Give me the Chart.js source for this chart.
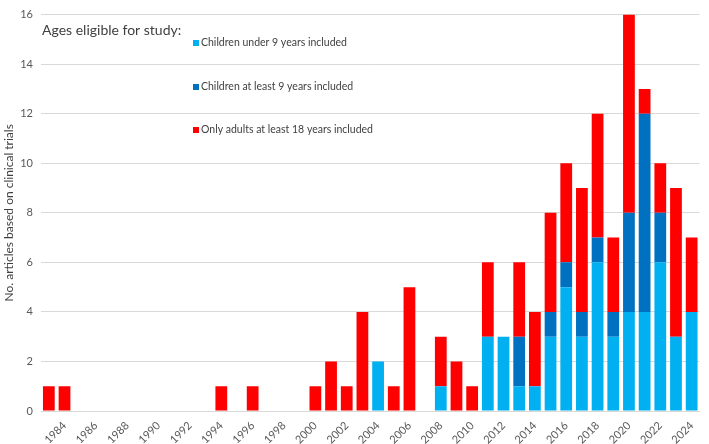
<!DOCTYPE html>
<html>
<head>
<meta charset="utf-8">
<style>
  html, body { margin: 0; padding: 0; background: #fff; }
  #wrap { width: 709px; height: 444px; position: relative; }
</style>
<script src="https://cdn.jsdelivr.net/npm/chart.js@4"></script>
</head>
<body>
<div id="wrap"><canvas id="myChart" width="709" height="444"></canvas></div>
<script>
// Años (categorías del eje x)
var years = [
  "1983", "1984", "1985", "1986", "1987", "1988", "1989", "1990", "1991", "1992",
  "1993", "1994", "1995", "1996", "1997", "1998", "1999", "2000", "2001", "2002",
  "2003", "2004", "2005", "2006", "2007", "2008", "2009", "2010", "2011", "2012",
  "2013", "2014", "2015", "2016", "2017", "2018", "2019", "2020", "2021", "2022",
  "2023", "2024"
];

// Series
var under9 = [
  0, 0, 0, 0, 0, 0, 0, 0, 0, 0,
  0, 0, 0, 0, 0, 0, 0, 0, 0, 0,
  0, 2, 0, 0, 0, 1, 0, 0, 3, 3,
  1, 1, 3, 5, 3, 6, 3, 4, 4, 6,
  3, 4
];
var atLeast9 = [
  0, 0, 0, 0, 0, 0, 0, 0, 0, 0,
  0, 0, 0, 0, 0, 0, 0, 0, 0, 0,
  0, 0, 0, 0, 0, 0, 0, 0, 0, 0,
  2, 0, 1, 1, 1, 1, 1, 4, 8, 2,
  0, 0
];
var adults = [
  1, 1, 0, 0, 0, 0, 0, 0, 0, 0,
  0, 1, 0, 1, 0, 0, 0, 1, 2, 1,
  4, 0, 1, 5, 0, 2, 2, 1, 3, 0,
  3, 3, 4, 4, 5, 5, 3, 8, 1, 2,
  6, 3
];

var seriesNames = [
  "Children under 9 years included",
  "Children at least 9 years included",
  "Only adults at least 18 years included"
];
var legendTitle = "Ages eligible for study:";
var yTitle = "No. articles based on clinical trials";

var FONT = "Lato, 'Open Sans', sans-serif";

// Leyenda dibujada dentro del área del gráfico
var insideLegend = {
  id: "insideLegend",
  afterDraw: function (chart) {
    var ctx = chart.ctx;
    ctx.save();
    ctx.textBaseline = "middle";
    ctx.fillStyle = "#404040";
    ctx.font = "14px " + FONT;
    ctx.fillText(legendTitle, 42, 30);
    var ys = [43, 87, 130];
    chart.data.datasets.forEach(function (ds, i) {
      ctx.fillStyle = ds.backgroundColor;
      ctx.fillRect(193, ys[i] - 3, 6, 6);
      ctx.fillStyle = "#404040";
      ctx.font = "10.5px " + FONT;
      ctx.fillText(ds.label, 201, ys[i]);
    });
    ctx.restore();
  }
};

var ctx = document.getElementById("myChart").getContext("2d");
var myChart = new Chart(ctx, {
  type: "bar",
  data: {
    labels: years,
    datasets: [
      { label: seriesNames[0], data: under9, backgroundColor: "#00B0F0" },
      { label: seriesNames[1], data: atLeast9, backgroundColor: "#0070C0" },
      { label: seriesNames[2], data: adults, backgroundColor: "#FF0000" }
    ]
  },
  options: {
    responsive: false,
    animation: false,
    layout: { padding: { top: 10, right: 1, left: 0, bottom: 0 } },
    datasets: {
      bar: { categoryPercentage: 1, barPercentage: 0.75, borderWidth: 0 }
    },
    plugins: {
      legend: { display: false },
      tooltip: { enabled: false }
    },
    scales: {
      x: {
        stacked: true,
        grid: { display: false, drawTicks: false },
        border: { color: "#d9d9d9" },
        ticks: {
          autoSkip: false,
          maxRotation: 45,
          minRotation: 45,
          padding: 8,
          color: "#595959",
          font: { family: FONT, size: 11 },
          callback: function (v, i) {
            var y = years[i];
            return (parseInt(y, 10) % 2 === 0) ? y : "";
          }
        },
        afterFit: function (scale) { scale.height = 33; }
      },
      y: {
        stacked: true,
        min: 0,
        max: 16,
        ticks: {
          stepSize: 2,
          padding: 8,
          color: "#595959",
          font: { family: FONT, size: 11 }
        },
        grid: { color: "#d9d9d9", drawTicks: false },
        border: { display: false },
        title: {
          display: true,
          text: yTitle,
          color: "#404040",
          padding: { top: 2, bottom: 0 },
          font: { family: FONT, size: 12 }
        },
        afterFit: function (scale) { scale.width = 41; }
      }
    }
  },
  plugins: [insideLegend]
});
</script>
</body>
</html>
